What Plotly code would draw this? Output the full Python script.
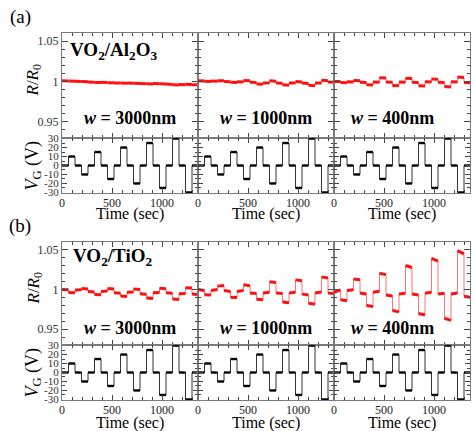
import plotly.graph_objects as go

W, H = 473, 431

# ---------------- data ----------------
T_EDGES = [0, 65, 130, 195, 260, 325, 390, 455, 520, 585, 650, 715, 780,
           845, 910, 975, 1040, 1105, 1170, 1235, 1300, 1360]
VG = [0, 10, 0, -10, 0, 15, 0, -15, 0, 20, 0, -20, 0, 25, 0, -25, 0, 30, 0, -30, 0]

WIDTH_LABELS = ["3000nm", "1000nm", "400nm"]
X_TICKS = [0, 500, 1000]
R_TICKS = [0.95, 1, 1.05]
R_TICK_TEXT = ["0.95", "1", "1.05"]
V_TICKS = [-30, -20, -10, 0, 10, 20, 30]
V_TICK_TEXT = ["-30", "-20", "-10", "0", "10", "20", "30"]

# (a) VO2/Al2O3 : R/R0 at start / end of each V_G segment
A3000_START = [1.0010, 1.0005, 1.0002, 1.0000, 0.9993, 0.9988, 0.9990, 0.9985, 0.9982, 0.9980, 0.9982,
               0.9978, 0.9976, 0.9972, 0.9975, 0.9972, 0.9968, 0.9958, 0.9962, 0.9965, 0.9960]
A3000_END = [1.0006, 1.0002, 1.0000, 0.9996, 0.9990, 0.9986, 0.9987, 0.9983, 0.9980, 0.9979, 0.9979,
             0.9976, 0.9973, 0.9970, 0.9973, 0.9970, 0.9962, 0.9956, 0.9960, 0.9962, 0.9958]
A1000_START = [1.0008, 1.0002, 1.0006, 1.0010, 1.0000, 0.9990, 0.9996, 1.0012, 0.9990, 0.9970, 0.9982,
               1.0008, 0.9980, 0.9958, 0.9982, 0.9998, 0.9980, 0.9952, 0.9982, 1.0014, 0.9994]
A1000_END = [1.0005, 1.0000, 1.0004, 1.0008, 0.9996, 0.9988, 0.9993, 1.0008, 0.9988, 0.9965, 0.9980,
             1.0004, 0.9978, 0.9952, 0.9980, 0.9994, 0.9976, 0.9946, 0.9980, 1.0010, 0.9990]
A400_START = [1.0000, 0.9987, 0.9996, 1.0012, 0.9990, 0.9960, 0.9992, 1.0046, 0.9992, 0.9950, 0.9992,
              1.0040, 0.9990, 0.9948, 0.9996, 1.0032, 0.9990, 0.9938, 0.9996, 1.0055, 0.9988]
A400_END = [0.9998, 0.9984, 0.9994, 1.0009, 0.9988, 0.9956, 0.9990, 1.0042, 0.9989, 0.9946, 0.9990,
            1.0036, 0.9987, 0.9943, 0.9993, 1.0028, 0.9988, 0.9932, 0.9994, 1.0050, 0.9985]

# (b) VO2/TiO2
B3000_START = [1.0000, 0.9964, 0.9994, 1.0012, 0.9974, 0.9938, 0.9976, 1.0012, 0.9960, 0.9918, 0.9966,
               1.0008, 0.9948, 0.9892, 0.9958, 1.0016, 0.9960, 0.9880, 0.9946, 1.0024, 0.9944]
B3000_END = [0.9996, 0.9960, 0.9998, 1.0008, 0.9968, 0.9934, 0.9980, 1.0008, 0.9954, 0.9913, 0.9970,
             1.0002, 0.9942, 0.9886, 0.9962, 1.0011, 0.9954, 0.9873, 0.9950, 1.0018, 0.9938]
B1000_START = [1.0000, 0.9934, 0.9987, 1.0043, 0.9987, 0.9902, 0.9974, 1.0060, 0.9957, 0.9878, 0.9957,
               1.0098, 0.9957, 0.9842, 0.9957, 1.0122, 0.9942, 0.9826, 0.9957, 1.0160, 0.9957]
B1000_END = [0.9987, 0.9930, 1.0000, 1.0050, 0.9974, 0.9898, 0.9987, 1.0047, 0.9950, 0.9870, 0.9966,
             1.0090, 0.9950, 0.9832, 0.9966, 1.0110, 0.9930, 0.9815, 0.9970, 1.0145, 0.9950]
B400_START = [0.9966, 0.9872, 0.9987, 1.0132, 0.9957, 0.9799, 0.9966, 1.0205, 0.9932, 0.9735, 0.9944,
              1.0303, 0.9944, 0.9697, 0.9953, 1.0393, 0.9944, 0.9637, 0.9944, 1.0491, 0.9915]
B400_END = [0.9996, 0.9859, 0.9996, 1.0124, 0.9944, 0.9786, 0.9979, 1.0188, 0.9919, 0.9718, 0.9953,
            1.0278, 0.9932, 0.9679, 0.9966, 1.0359, 0.9953, 0.9611, 0.9957, 1.0449, 0.9902]

PANELS = [
    dict(tag="(a)", name="<b>VO<sub>2</sub>/Al<sub>2</sub>O<sub>3</sub></b>",
         R=[(A3000_START, A3000_END), (A1000_START, A1000_END), (A400_START, A400_END)]),
    dict(tag="(b)", name="<b>VO<sub>2</sub>/TiO<sub>2</sub></b>",
         R=[(B3000_START, B3000_END), (B1000_START, B1000_END), (B400_START, B400_END)]),
]

# ---------------- layout geometry (pixels) ----------------
COL_X = [(62, 198), (198, 334), (334, 470)]
PANEL_Y = [dict(r=(33, 138), v=(138, 193), tag_y=17, name_x=68, name_y=51, w_y=118, time_y=214),
           dict(r=(242, 345), v=(345, 400), tag_y=226, name_x=71, name_y=257, w_y=328, time_y=423)]

FONT = "Liberation Serif"
FRAME = "#7a7a7a"
TICKC = "#444444"


def px(x):
    return x / W


def py(y):
    return 1 - y / H


def path(starts, ends):
    xs, ys = [], []
    for i in range(len(starts)):
        xs += [T_EDGES[i], T_EDGES[i + 1]]
        ys += [starts[i], ends[i]]
    return xs, ys


def plateaus(starts, ends):
    xs, ys = [], []
    for i in range(len(starts)):
        xs += [T_EDGES[i], T_EDGES[i + 1], None]
        ys += [starts[i], ends[i], None]
    return xs, ys


def ann(text, x, y, size, xanchor="center", angle=0):
    return dict(text=text, x=px(x), y=py(y), xref="paper", yref="paper",
                xanchor=xanchor, yanchor="middle", textangle=angle, showarrow=False,
                font=dict(family=FONT, size=size, color="#000"))


fig = go.Figure()
layout = {}
annotations = []
k = 0

for p, panel in enumerate(PANELS):
    g = PANEL_Y[p]
    for row in ("r", "v"):
        for c in range(3):
            k += 1
            xa = "xaxis" if k == 1 else f"xaxis{k}"
            ya = "yaxis" if k == 1 else f"yaxis{k}"
            xr = "x" if k == 1 else f"x{k}"
            yr = "y" if k == 1 else f"y{k}"
            y0, y1 = g[row]
            x0, x1 = COL_X[c]
            layout[xa] = dict(
                domain=[px(x0), px(x1)], anchor=yr, range=[0, 1360],
                tickmode="array", tickvals=X_TICKS, ticktext=[str(v) for v in X_TICKS],
                showticklabels=(row == "v"), ticks="inside", ticklen=5, tickcolor=TICKC,
                minor=dict(dtick=100, tick0=0, ticks="inside", ticklen=3, tickcolor=TICKC),
                showline=True, linecolor=FRAME, linewidth=1.3, mirror="ticks",
                showgrid=False, zeroline=False, automargin=False,
                tickfont=dict(family=FONT, size=12, color="#222"), ticklabelstandoff=-2,
            )
            if row == "r":
                layout[ya] = dict(
                    domain=[py(y1), py(y0)], anchor=xr, range=[0.93, 1.06],
                    tickmode="array", tickvals=R_TICKS, ticktext=R_TICK_TEXT,
                    showticklabels=(c == 0), ticks="inside", ticklen=6, tickcolor=TICKC,
                    minor=dict(dtick=0.01, tick0=0, ticks="inside", ticklen=3, tickcolor=TICKC),
                    showline=True, linecolor=FRAME, linewidth=1.3, mirror="ticks",
                    showgrid=False, zeroline=False, automargin=False,
                    tickfont=dict(family=FONT, size=12, color="#333"),
                )
                s, e = panel["R"][c]
                xs, ys = path(s, e)
                fig.add_trace(go.Scatter(x=xs, y=ys, xaxis=xr, yaxis=yr, mode="lines",
                                         line=dict(color="rgba(255,70,70,0.75)", width=1),
                                         showlegend=False, hoverinfo="skip"))
                xs, ys = plateaus(s, e)
                fig.add_trace(go.Scatter(x=xs, y=ys, xaxis=xr, yaxis=yr, mode="lines",
                                         line=dict(color="#ff1010", width=3),
                                         showlegend=False, hoverinfo="skip"))
            else:
                layout[ya] = dict(
                    domain=[py(y1), py(y0)], anchor=xr, range=[-30.6, 30.6],
                    tickmode="array", tickvals=V_TICKS, ticktext=V_TICK_TEXT,
                    showticklabels=(c == 0), ticks="inside", ticklen=5, tickcolor=TICKC,
                    minor=dict(dtick=5, tick0=0, ticks="inside", ticklen=3, tickcolor=TICKC),
                    showline=True, linecolor=FRAME, linewidth=1.3, mirror="ticks",
                    showgrid=False, zeroline=False, automargin=False,
                    tickfont=dict(family=FONT, size=11, color="#333"),
                )
                xs, ys = path(VG, VG)
                fig.add_trace(go.Scatter(x=xs, y=ys, xaxis=xr, yaxis=yr, mode="lines",
                                         line=dict(color="#333333", width=1),
                                         showlegend=False, hoverinfo="skip"))
                xs, ys = plateaus(VG, VG)
                fig.add_trace(go.Scatter(x=xs, y=ys, xaxis=xr, yaxis=yr, mode="lines",
                                         line=dict(color="#000000", width=2.4),
                                         showlegend=False, hoverinfo="skip"))

    annotations.append(ann(panel["tag"], 20, g["tag_y"], 19))
    annotations.append(ann(panel["name"], g["name_x"], g["name_y"], 19, xanchor="left"))
    for c in range(3):
        x0, x1 = COL_X[c]
        cx = (x0 + x1) / 2 if c < 2 else 392
        annotations.append(ann(f"<b><i>w</i> = {WIDTH_LABELS[c]}</b>", cx, g["w_y"], 18))
        annotations.append(ann("Time (sec)", (x0 + x1) / 2, g["time_y"], 16))
    ry = (g["r"][0] + g["r"][1]) / 2 - 5
    annotations.append(ann("<i>R</i>/<i>R</i><sub>0</sub>", 34, ry, 17, angle=-90))
    vy = (g["v"][0] + g["v"][1]) / 2
    annotations.append(ann("<i>V</i><sub>G</sub> (V)", 33, vy, 18, angle=-90))

fig.update_layout(
    width=W, height=H, margin=dict(l=0, r=0, t=0, b=0),
    paper_bgcolor="white", plot_bgcolor="white",
    font=dict(family=FONT),
    annotations=annotations,
    **layout,
)

fig.write_html("out.html", config={"displayModeBar": False},
               post_script="document.body.style.margin='0px';")
